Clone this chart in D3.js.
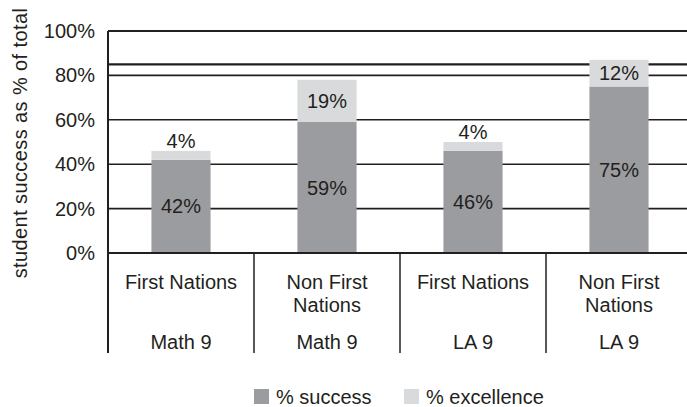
<!DOCTYPE html>
<html>
<head>
<meta charset="utf-8">
<script src="https://cdn.jsdelivr.net/npm/d3@7"></script>
<style>
  body { margin: 0; background: #fff; }
  svg { display: block; font-family: "Liberation Sans", Arial, sans-serif; }
</style>
</head>
<body>
<svg id="chart"></svg>
<script>
// data
const groupLabels = [["First Nations"], ["Non First", "Nations"], ["First Nations"], ["Non First", "Nations"]];
const subjects = ["Math 9", "Math 9", "LA 9", "LA 9"];
const success = [42, 59, 46, 75];
const excellence = [4, 19, 4, 12];
const yTicks = [0, 20, 40, 60, 80, 100];
const targetLine = 85;
const seriesNames = ["% success", "% excellence"];

const width = 687, height = 407;
const margin = { top: 31, left: 108, bottom: 154 };
const ink = "#231f20";
const colors = ["#9b9c9f", "#d9dadb"];
const fs = 20;

const svg = d3.select("#chart").attr("width", width).attr("height", height);

const keys = d3.range(success.length);
const x = d3.scaleBand().domain(keys).range([margin.left, margin.left + 4 * 146]).padding(0);
const y = d3.scaleLinear().domain([0, 100]).range([height - margin.bottom, margin.top]);
const barW = x.bandwidth() * 0.405;
const x0 = x.range()[0], x1 = x.range()[1];

// gridlines (behind bars)
svg.append("g").selectAll("line").data(yTicks.filter(d => d > 0)).join("line")
  .attr("x1", x0).attr("x2", x1)
  .attr("y1", d => y(d)).attr("y2", d => y(d))
  .attr("stroke", ink).attr("stroke-width", d => d === 100 ? 2 : 1.6);

// target line
svg.append("line")
  .attr("x1", x0).attr("x2", x1)
  .attr("y1", y(targetLine)).attr("y2", y(targetLine))
  .attr("stroke", ink).attr("stroke-width", 2.2);

// stacked bars
const rows = keys.map(i => ({ i, s: success[i], e: excellence[i] }));
const bars = svg.append("g");
bars.selectAll("rect.s").data(rows).join("rect")
  .attr("x", d => x(d.i) + (x.bandwidth() - barW) / 2)
  .attr("width", barW)
  .attr("y", d => y(d.s))
  .attr("height", d => y(0) - y(d.s))
  .attr("fill", colors[0]);
bars.selectAll("rect.e").data(rows).join("rect")
  .attr("x", d => x(d.i) + (x.bandwidth() - barW) / 2)
  .attr("width", barW)
  .attr("y", d => y(d.s + d.e))
  .attr("height", d => y(d.s) - y(d.s + d.e))
  .attr("fill", colors[1]);

// value labels
const lab = svg.append("g").attr("font-size", fs).attr("fill", ink).attr("text-anchor", "middle");
lab.selectAll("text.s").data(rows).join("text")
  .attr("x", d => x(d.i) + x.bandwidth() / 2)
  .attr("y", d => y(d.s / 2)).attr("dy", "0.35em")
  .text(d => d.s + "%");
lab.selectAll("text.e").data(rows).join("text")
  .attr("x", d => x(d.i) + x.bandwidth() / 2)
  .attr("y", d => d.e < 8 ? y(d.s + d.e) - 10 : y(d.s + d.e / 2))
  .attr("dy", "0.35em")
  .text(d => d.e + "%");

// y axis
svg.append("line")
  .attr("x1", x0).attr("x2", x0).attr("y1", y(100)).attr("y2", y(0) + 100)
  .attr("stroke", ink).attr("stroke-width", 2);
svg.append("g").attr("font-size", fs).attr("fill", ink).attr("text-anchor", "end")
  .selectAll("text").data(yTicks).join("text")
  .attr("x", 95).attr("y", d => y(d)).attr("dy", "0.35em")
  .text(d => d + "%");

svg.append("text")
  .attr("transform", "translate(27,143) rotate(-90)")
  .attr("text-anchor", "middle").attr("font-size", fs).attr("fill", ink)
  .attr("letter-spacing", 0.4)
  .text("student success as % of total");

// category axis
svg.append("line")
  .attr("x1", x0).attr("x2", x1).attr("y1", y(0)).attr("y2", y(0))
  .attr("stroke", ink).attr("stroke-width", 2);
svg.append("g").selectAll("line").data(keys.slice(1).concat([keys.length])).join("line")
  .attr("x1", d => x0 + d * x.step()).attr("x2", d => x0 + d * x.step())
  .attr("y1", y(0)).attr("y2", y(0) + 100)
  .attr("stroke", ink).attr("stroke-width", 1.5);

const cat = svg.append("g").attr("font-size", fs).attr("fill", ink).attr("text-anchor", "middle");
keys.forEach(i => {
  groupLabels[i].forEach((line, j) => {
    cat.append("text")
      .attr("x", x(i) + x.bandwidth() / 2)
      .attr("y", y(0) + 29 + j * 23).attr("dy", "0.35em")
      .text(line);
  });
  cat.append("text")
    .attr("x", x(i) + x.bandwidth() / 2)
    .attr("y", y(0) + 89).attr("dy", "0.35em")
    .text(subjects[i]);
});

// legend
const legend = svg.append("g").attr("transform", "translate(254,389)");
const legX = [0, 150];
seriesNames.forEach((name, i) => {
  legend.append("rect").attr("x", legX[i]).attr("y", 0).attr("width", 15).attr("height", 15).attr("fill", colors[i]);
  legend.append("text").attr("x", legX[i] + 22).attr("y", 7.5).attr("dy", "0.35em")
    .attr("font-size", fs).attr("fill", ink).text(name);
});
</script>
</body>
</html>
